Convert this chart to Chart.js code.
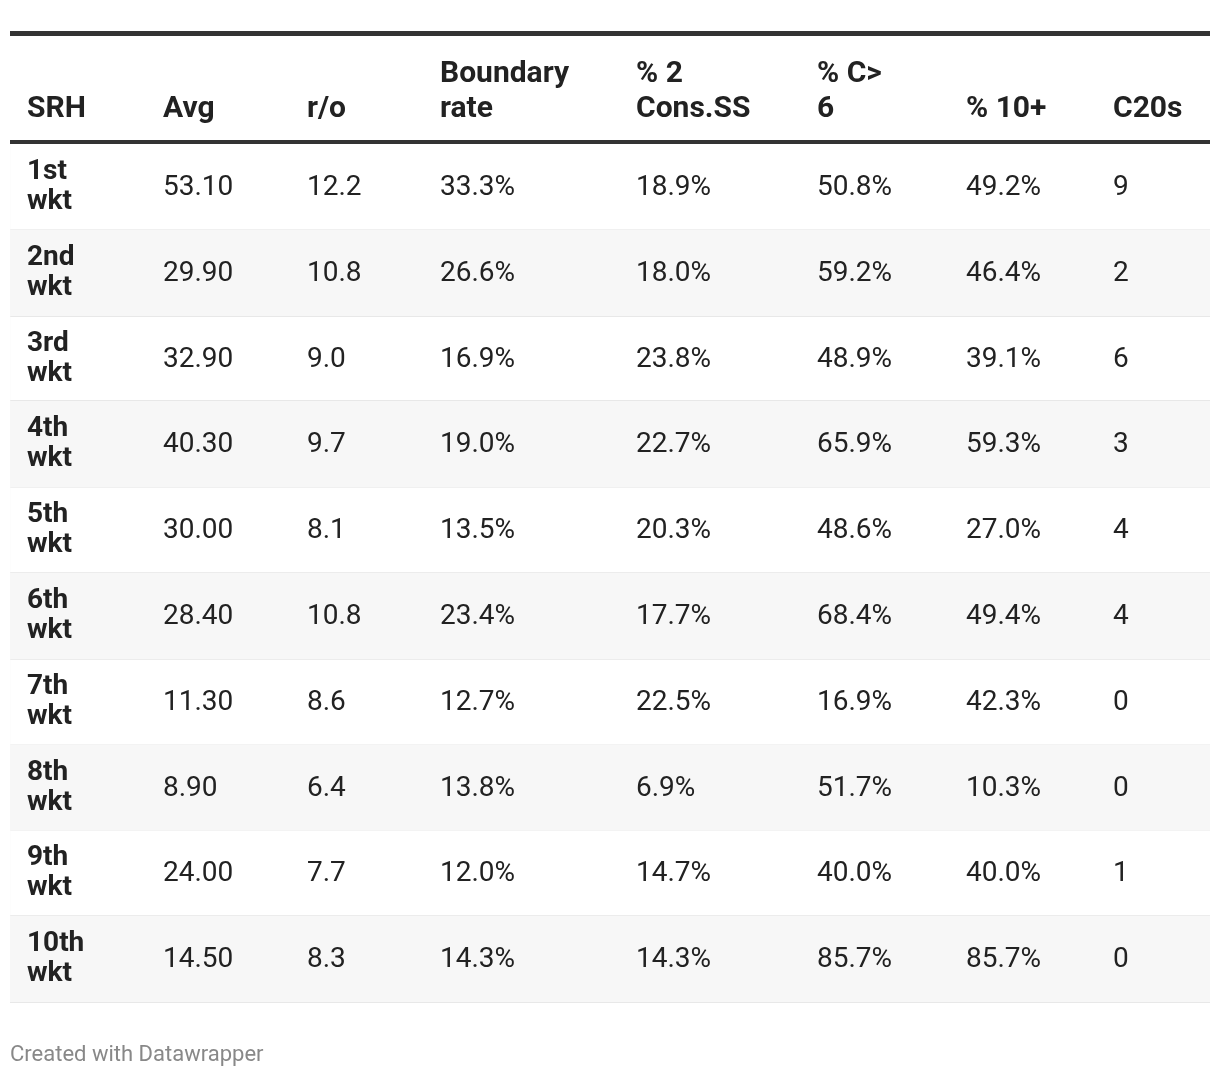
<!DOCTYPE html>
<html>
<head>
<meta charset="utf-8">
<script src="https://cdn.jsdelivr.net/npm/chart.js@4.4.1/dist/chart.umd.min.js"></script>
<style>
  body { margin: 0; background: #fff; }
  canvas { display: block; }
</style>
</head>
<body>
<canvas id="srh_table" width="1220" height="1078"></canvas>
<script>
// table data
const headers = ['SRH', 'Avg', 'r/o', 'Boundary\nrate', '% 2\nCons.SS', '% C>\n6', '% 10+', 'C20s'];
const rows = ['1st wkt', '2nd wkt', '3rd wkt', '4th wkt', '5th wkt', '6th wkt', '7th wkt', '8th wkt', '9th wkt', '10th wkt'];
const avg = [53.10, 29.90, 32.90, 40.30, 30.00, 28.40, 11.30, 8.90, 24.00, 14.50];
const runRate = [12.2, 10.8, 9.0, 9.7, 8.1, 10.8, 8.6, 6.4, 7.7, 8.3];
const boundaryRate = [33.3, 26.6, 16.9, 19.0, 13.5, 23.4, 12.7, 13.8, 12.0, 14.3];
const cons2 = [18.9, 18.0, 23.8, 22.7, 20.3, 17.7, 22.5, 6.9, 14.7, 14.3];
const cOver6 = [50.8, 59.2, 48.9, 65.9, 48.6, 68.4, 16.9, 51.7, 40.0, 85.7];
const tenPlus = [49.2, 46.4, 39.1, 59.3, 27.0, 49.4, 42.3, 10.3, 40.0, 85.7];
const c20s = [9, 2, 6, 3, 4, 4, 0, 0, 1, 0];

// column x offsets (px from canvas left)
const colX = [27, 163, 307, 440, 636, 817, 966, 1113];

const columns = [
    avg.map(v => v.toFixed(2)),
    runRate.map(v => v.toFixed(1)),
    boundaryRate.map(v => v.toFixed(1) + '%'),
    cons2.map(v => v.toFixed(1) + '%'),
    cOver6.map(v => v.toFixed(1) + '%'),
    tenPlus.map(v => v.toFixed(1) + '%'),
    c20s.map(v => String(v))
];

// zebra stripes: every second row shaded
const stripes = rows.map((r, i) => i % 2 === 1 ? 1 : 0);

const tablePlugin = {
    id: 'tableText',
    afterDatasetsDraw(chart) {
        const ctx = chart.ctx;
        const yScale = chart.scales.y;
        const area = chart.chartArea;
        ctx.save();

        // thick rules
        ctx.fillStyle = '#333333';
        ctx.fillRect(10, 31, 1200, 5);
        ctx.fillRect(10, area.top - 4, 1200, 4);

        // header
        ctx.fillStyle = '#222222';
        ctx.font = 'bold 30px Roboto';
        ctx.textAlign = 'left';
        ctx.textBaseline = 'alphabetic';
        headers.forEach((h, c) => {
            const lines = h.split('\n');
            lines.forEach((line, k) => {
                const y = 117 - (lines.length - 1 - k) * 35;
                ctx.fillText(line, colX[c], y);
            });
        });

        // body
        ctx.textBaseline = 'middle';
        rows.forEach((r, i) => {
            const y = yScale.getPixelForValue(i);
            const parts = r.split(' ');
            ctx.font = 'bold 28px Roboto';
            ctx.fillText(parts[0], colX[0], y - 15);
            ctx.fillText(parts[1], colX[0], y + 15);
            ctx.font = '28px Roboto';
            columns.forEach((col, c) => {
                ctx.fillText(col[i], colX[c + 1], y + 1);
            });
        });

        // footer
        ctx.fillStyle = '#888888';
        ctx.font = '22px Roboto';
        ctx.fillText('Created with Datawrapper', 10, 1055);
        ctx.restore();
    }
};

function draw() {
    const el = document.getElementById('srh_table').getContext('2d');
    new Chart(el, {
        type: 'bar',
        data: {
            labels: rows,
            datasets: [{
                data: stripes,
                backgroundColor: '#f7f7f7',
                borderWidth: 0,
                barPercentage: 1,
                categoryPercentage: 1
            }]
        },
        options: {
            indexAxis: 'y',
            responsive: false,
            animation: false,
            events: [],
            layout: { padding: { top: 144, bottom: 76, left: 10, right: 10 } },
            scales: {
                x: { display: false, min: 0, max: 1 },
                y: {
                    display: true,
                    ticks: { display: false },
                    border: { display: false },
                    grid: {
                        offset: true,
                        drawTicks: false,
                        lineWidth: 2,
                        color: c => (c.index === 0 || c.index === rows.length) ? 'rgba(0,0,0,0)' : '#e8e8e8'
                    }
                }
            },
            plugins: {
                legend: { display: false },
                tooltip: { enabled: false }
            }
        },
        plugins: [tablePlugin]
    });
}

if (document.fonts && document.fonts.load) {
    Promise.all([document.fonts.load('28px Roboto'), document.fonts.load('bold 28px Roboto')])
        .then(draw).catch(draw);
} else {
    draw();
}
</script>
</body>
</html>
